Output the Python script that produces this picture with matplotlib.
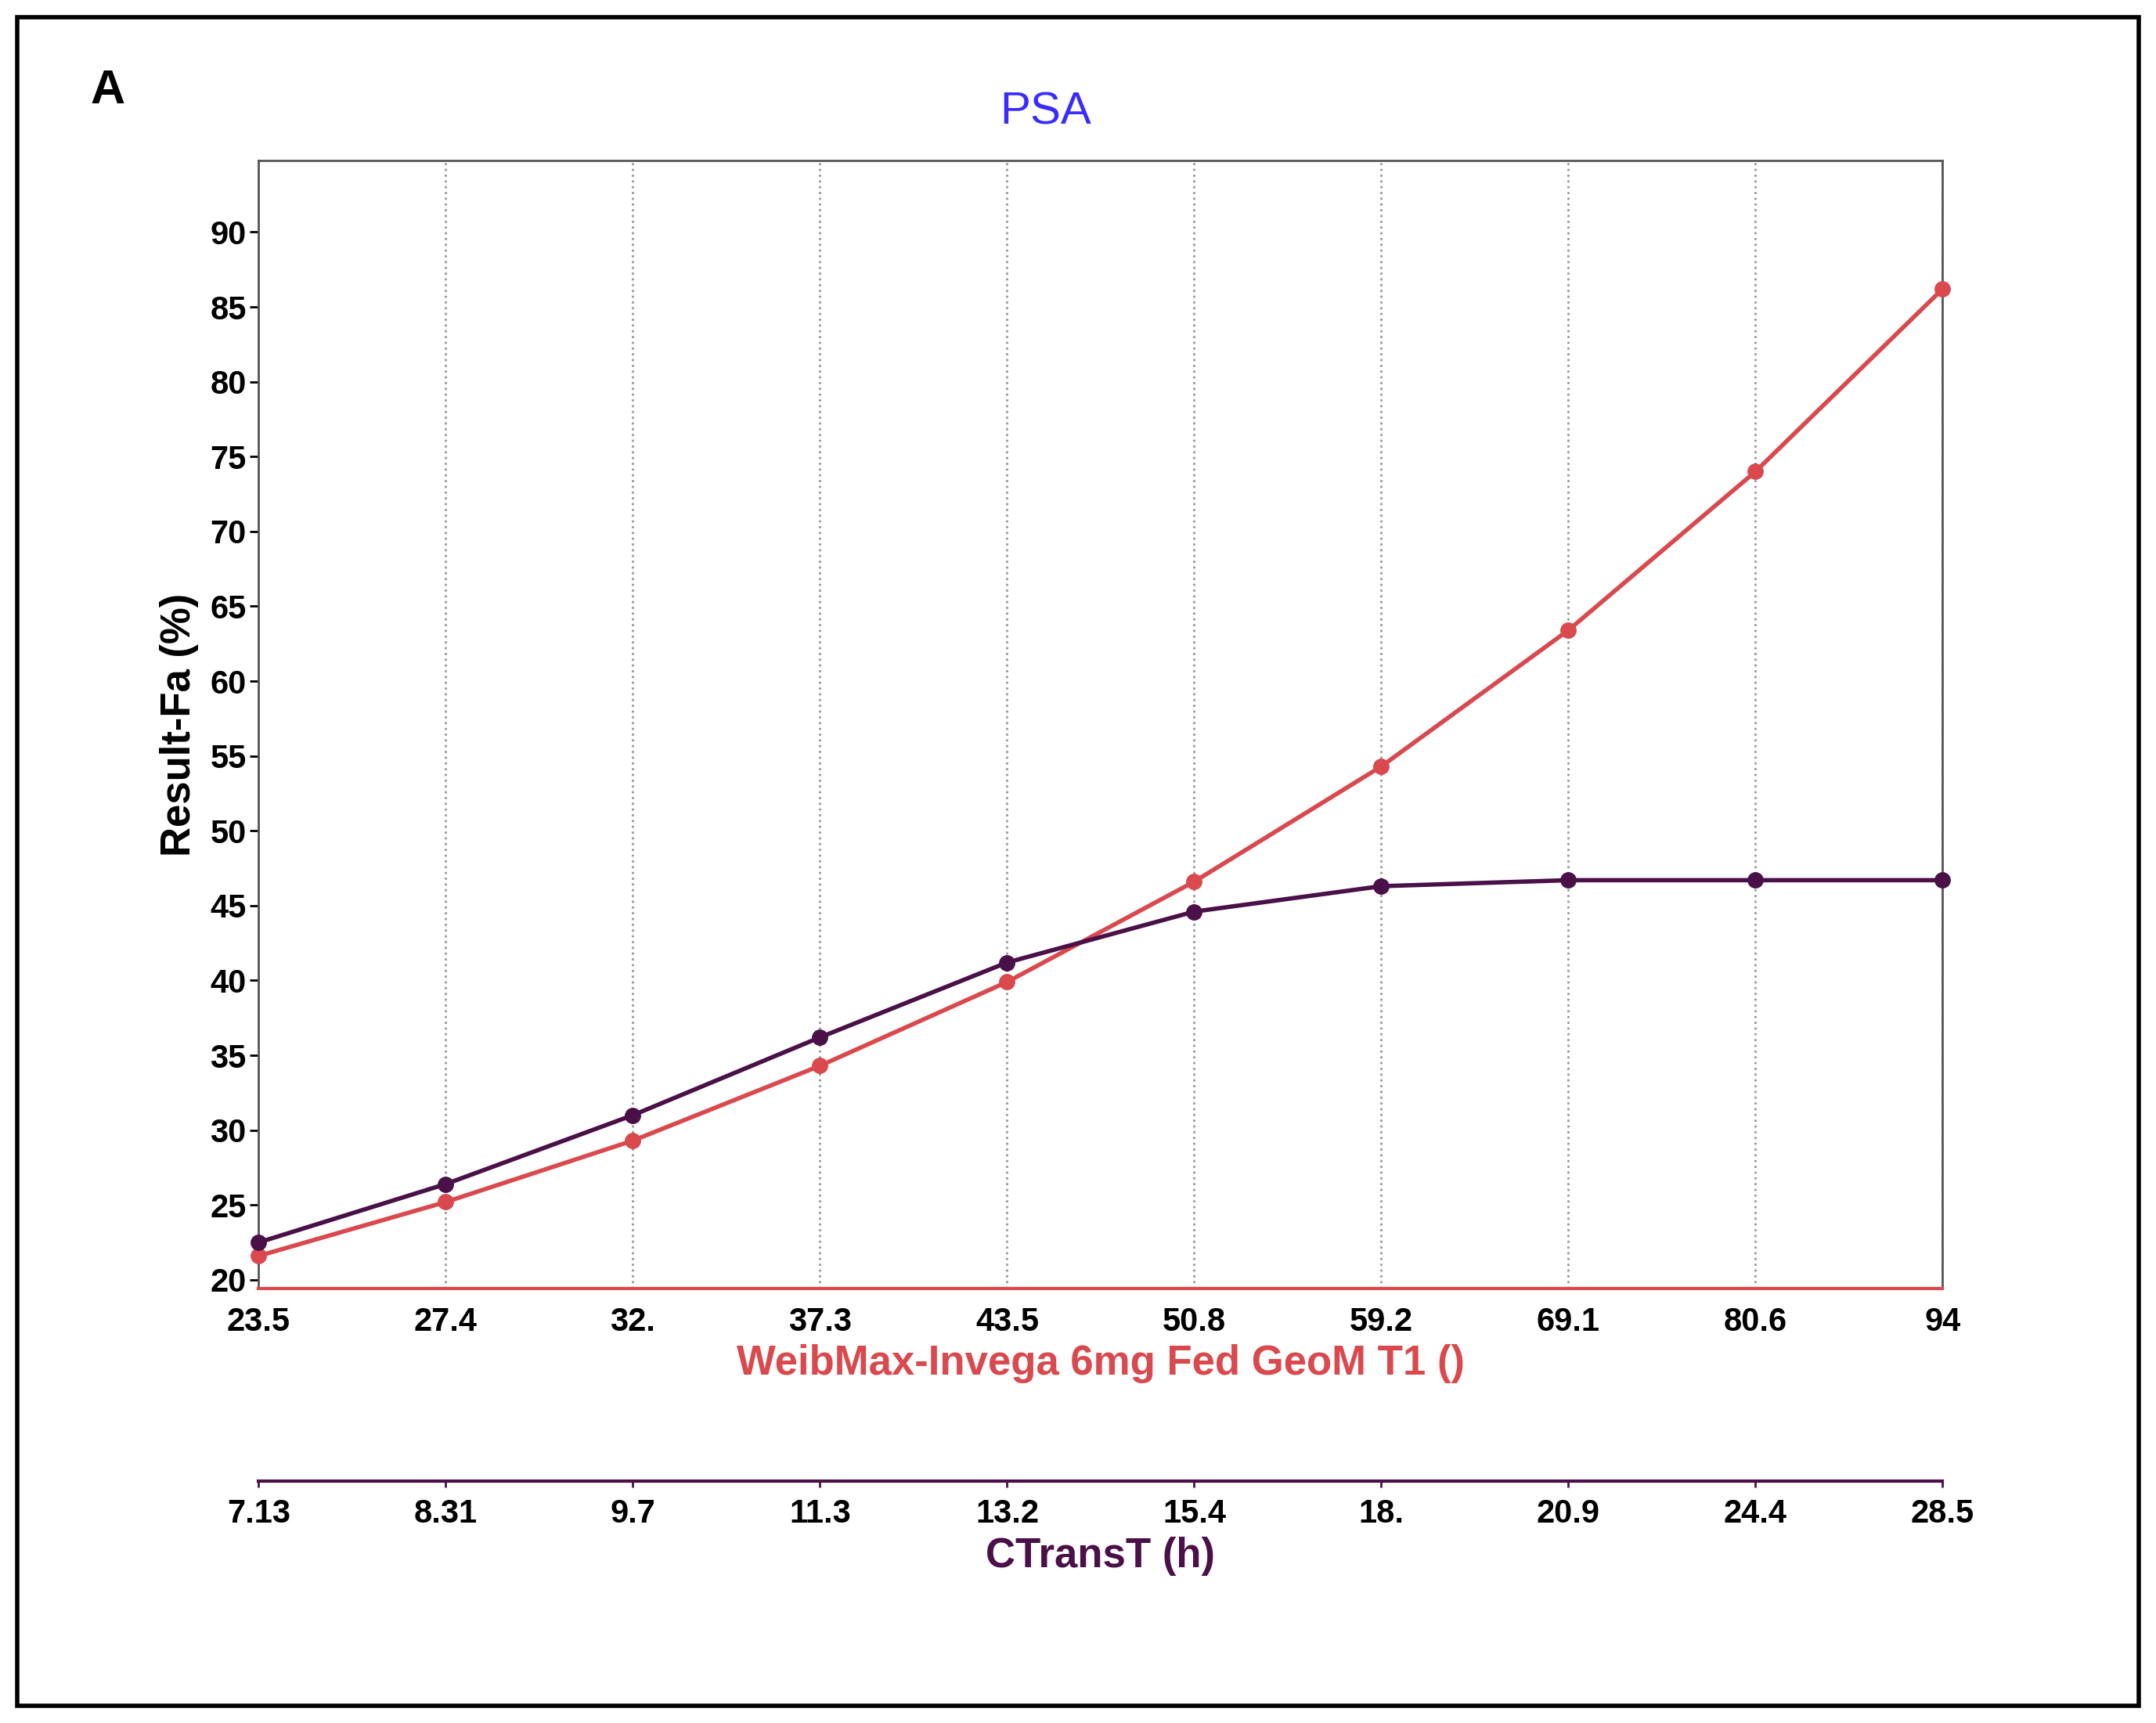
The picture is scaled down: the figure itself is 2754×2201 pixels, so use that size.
import matplotlib
matplotlib.use("Agg")
import matplotlib.pyplot as plt
from matplotlib.patches import Rectangle

plt.rcParams['font.family'] = ['Liberation Sans', 'DejaVu Sans']

weib_labels = ["23.5", "27.4", "32.", "37.3", "43.5", "50.8", "59.2", "69.1", "80.6", "94"]
ctrans_labels = ["7.13", "8.31", "9.7", "11.3", "13.2", "15.4", "18.", "20.9", "24.4", "28.5"]
red_vals = [21.6, 25.2, 29.3, 34.3, 39.9, 46.6, 54.3, 63.4, 74.0, 86.2]
purple_vals = [22.5, 26.4, 31.0, 36.2, 41.2, 44.6, 46.3, 46.7, 46.7, 46.7]

RED = "#d9494e"
PUR = "#4a1048"

fig = plt.figure(figsize=(27.54, 22.01), dpi=100)
fig.patches.append(Rectangle((0.008, 0.01), 0.984, 0.98, transform=fig.transFigure,
                             fill=False, edgecolor="black", linewidth=4))
ax = fig.add_axes([0.120, 0.252, 0.781, 0.655])
x = list(range(len(weib_labels)))
ax.plot(x, red_vals, color=RED, lw=4, marker='o', ms=14, zorder=3, clip_on=False)
ax.plot(x, purple_vals, color=PUR, lw=4, marker='o', ms=14, zorder=4, clip_on=False)
ax.set_xlim(0, 9)
ax.set_ylim(19.4, 94.8)
ax.set_yticks(range(20, 91, 5))
ax.set_xticks(x)
ax.set_xticklabels(weib_labels)
ax.grid(axis='x', color='#999999', linestyle=':', lw=2)
for s in ['top', 'right', 'left']:
    ax.spines[s].set_color('#555555'); ax.spines[s].set_linewidth(2)
ax.spines['bottom'].set_color(RED); ax.spines['bottom'].set_linewidth(3)
ax.tick_params(axis='x', length=0, pad=16, labelsize=30)
ax.tick_params(axis='y', length=8, width=2, labelsize=30)
for t in ax.get_xticklabels() + ax.get_yticklabels():
    t.set_fontweight('bold')
ax.set_ylabel("Result-Fa (%)", fontsize=38, fontweight='bold', labelpad=10)
ax.set_xlabel("WeibMax-Invega 6mg Fed GeoM T1 ()", fontsize=38, fontweight='bold', color=RED, labelpad=6)
fig.text(0.485, 0.935, "PSA", fontsize=42, color="#3a2bff", ha='center', va='center')

ax2 = ax.twiny()
ax2.set_xlim(0, 9)
ax2.xaxis.set_ticks_position('bottom')
ax2.xaxis.set_label_position('bottom')
ax2.spines['bottom'].set_position(('outward', 177))
ax2.spines['bottom'].set_color(PUR); ax2.spines['bottom'].set_linewidth(3)
for s in ['top', 'right', 'left']:
    ax2.spines[s].set_visible(False)
ax2.set_xticks(x)
ax2.set_xticklabels(ctrans_labels)
ax2.tick_params(axis='x', length=6, width=2, color=PUR, pad=10, labelsize=30)
for t in ax2.get_xticklabels():
    t.set_fontweight('bold')
ax2.set_xlabel("CTransT (h)", fontsize=38, fontweight='bold', color=PUR, labelpad=6)

fig.text(0.042, 0.94, "A", fontsize=44, fontweight='bold')
fig.savefig("out.png", dpi=100)
